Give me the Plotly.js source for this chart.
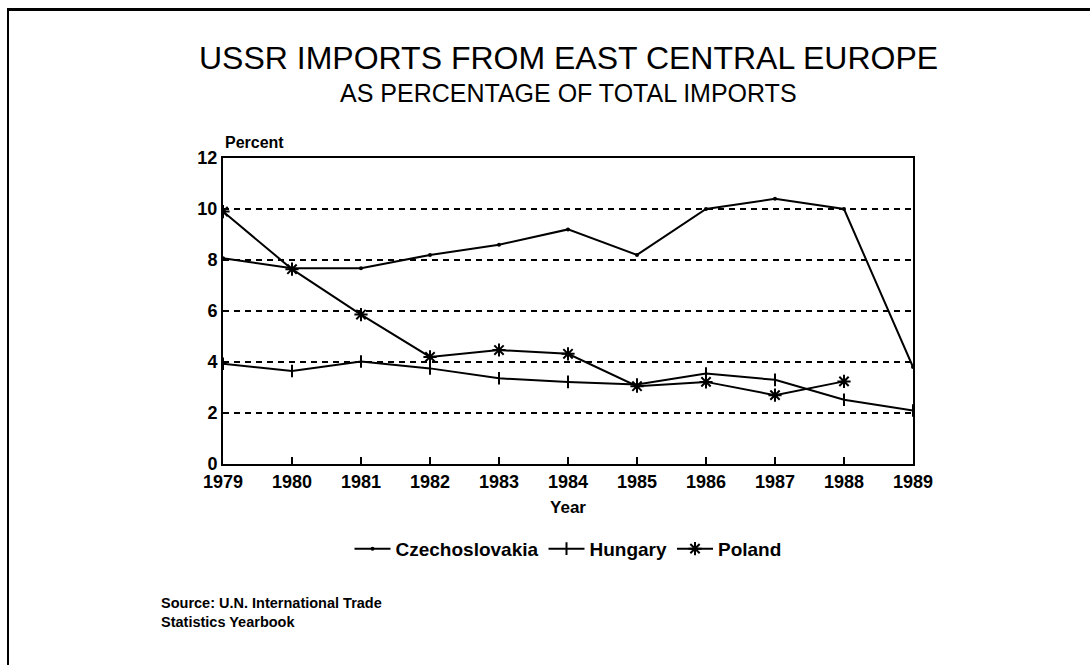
<!DOCTYPE html>
<html>
<head>
<meta charset="utf-8">
<script src="https://cdn.plot.ly/plotly-3.0.1.min.js"></script>
<style>
html,body{margin:0;padding:0;background:#fff;}
#wrap{position:relative;width:1090px;height:665px;}
#chart{position:absolute;left:0;top:0;width:1090px;height:665px;}
#frame{position:absolute;left:7px;top:8px;width:1083px;height:657px;border-left:2px solid #000;border-top:3px solid #000;pointer-events:none;}
</style>
</head>
<body>
<div id="wrap"><div id="chart"></div><div id="frame"></div></div>
<script>
var years = [1979, 1980, 1981, 1982, 1983, 1984, 1985, 1986, 1987, 1988, 1989];
var czechoslovakia = [8.07, 7.68, 7.68, 8.2, 8.6, 9.2, 8.2, 10.0, 10.4, 10.0, 3.8];
var hungary = [3.93, 3.65, 4.02, 3.75, 3.36, 3.22, 3.12, 3.55, 3.3, 2.52, 2.1];
var poland = [9.9, 7.64, 5.86, 4.2, 4.47, 4.32, 3.05, 3.22, 2.7, 3.24];
var yTicks = [0, 2, 4, 6, 8, 10, 12];

var fontBold = 'Liberation Sans, Arial, sans-serif';
var fontTitle = 'Liberation Sans, Arial, sans-serif';

var traces = [
  {x: years, y: czechoslovakia, name: 'Czechoslovakia', type: 'scatter', mode: 'lines+markers',
   line: {color: '#000', width: 2}, marker: {symbol: 'circle', size: 4, color: '#000'}},
  {x: years, y: hungary, name: 'Hungary', type: 'scatter', mode: 'lines+markers',
   line: {color: '#000', width: 2}, marker: {symbol: 'line-ns-open', size: 9, color: '#000', line: {color: '#000', width: 2}}},
  {x: years.slice(0, poland.length), y: poland, name: 'Poland', type: 'scatter', mode: 'lines+markers',
   line: {color: '#000', width: 2}, marker: {symbol: 'asterisk-open', size: 11, color: '#000', line: {color: '#000', width: 2}}}
];

var layout = {
  width: 1090, height: 665,
  margin: {l: 223, r: 177, t: 158, b: 201},
  paper_bgcolor: '#fff', plot_bgcolor: '#fff',
  showlegend: true,
  legend: {orientation: 'h', x: 0.5, xanchor: 'center', y: -0.215, yanchor: 'top',
           font: {family: fontBold, size: 19, color: '#000', weight: 'bold'}, itemwidth: 36, tracegroupgap: 0,
           bgcolor: 'rgba(0,0,0,0)'},
  xaxis: {range: [1979, 1989], tickvals: years, ticktext: years.map(String),
          ticks: 'inside', ticklen: 7, tickwidth: 1.5, tickcolor: '#000',
          showgrid: false, zeroline: false, showline: true, linecolor: '#000', linewidth: 2, mirror: true,
          tickfont: {family: fontBold, size: 18, color: '#000', weight: 'bold'},
          title: {text: 'Year', font: {family: fontBold, size: 17, color: '#000', weight: 'bold'}, standoff: 11}},
  yaxis: {range: [0, 12], tickvals: yTicks, ticktext: yTicks.map(String),
          ticks: '', showgrid: true, gridcolor: '#000', gridwidth: 1.5, griddash: '6px,5px',
          zeroline: false, showline: true, linecolor: '#000', linewidth: 2, mirror: true,
          tickfont: {family: fontBold, size: 18, color: '#000', weight: 'bold'}},
  annotations: [
    {text: 'USSR IMPORTS FROM EAST CENTRAL EUROPE', xref: 'paper', yref: 'paper', x: 0.5, y: 1.327,
     xanchor: 'center', yanchor: 'middle', showarrow: false,
     font: {family: fontTitle, size: 32, color: '#000'}},
    {text: 'AS PERCENTAGE OF TOTAL IMPORTS', xref: 'paper', yref: 'paper', x: 0.5, y: 1.212,
     xanchor: 'center', yanchor: 'middle', showarrow: false,
     font: {family: fontTitle, size: 25, color: '#000'}},
    {text: 'Percent', xref: 'paper', yref: 'paper', x: 0, y: 1.05, xanchor: 'left', yanchor: 'middle', showarrow: false,
     font: {family: fontBold, size: 16, color: '#000', weight: 'bold'}},
    {text: 'Source: U.N. International Trade<br>Statistics Yearbook', xref: 'paper', yref: 'paper',
     x: -0.093, y: -0.42, xanchor: 'left', yanchor: 'top', align: 'left', showarrow: false,
     font: {family: fontBold, size: 14.5, color: '#000', weight: 'bold'}}
  ]
};

Plotly.newPlot('chart', traces, layout, {displayModeBar: false, staticPlot: true});
</script>
</body>
</html>
